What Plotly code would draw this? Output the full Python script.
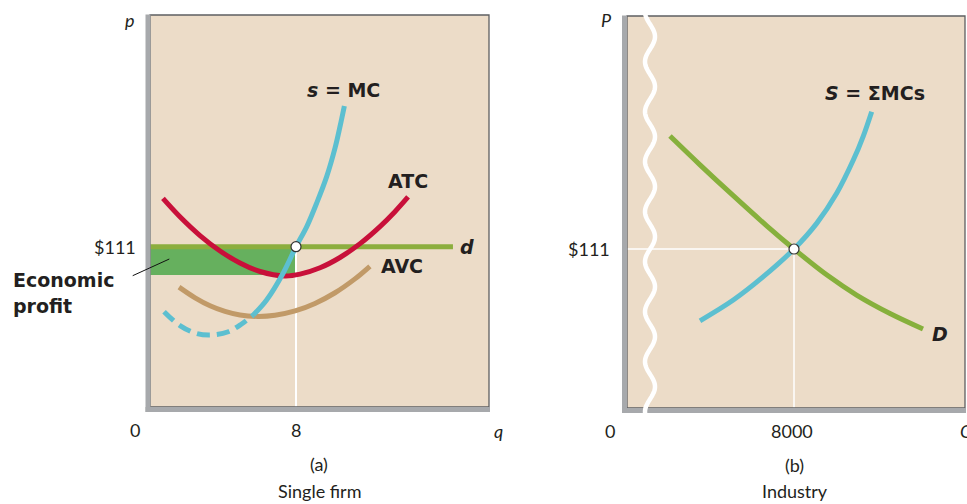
import numpy as np
import plotly.graph_objects as go

W, H = 967, 504

# ---------------- Panel (a): single firm ----------------
price = 111
q_star = 8
atc_at_qstar = 91.4
d_q = [0, 16.6]
d_p = [111, 111]

atc_q = [0.71, 1.64, 2.74, 3.84, 4.93, 6.03, 7.40, 8.22, 9.32, 10.41, 11.51, 12.60, 13.42, 14.14]
atc_p = [144.4, 131.7, 118.7, 108.0, 99.7, 93.8, 90.7, 92.0, 96.4, 103.5, 113.1, 124.9, 135.2, 145.4]

avc_q = [1.59, 2.47, 3.29, 4.11, 4.93, 5.92, 6.85, 7.95, 9.04, 10.14, 11.23, 12.05]
avc_p = [83.0, 75.6, 70.1, 66.2, 63.7, 62.7, 63.5, 66.5, 71.7, 79.1, 88.7, 97.4]

mc_dash_q = [0.77, 1.64, 2.56, 3.40, 4.29, 5.02, 5.66]
mc_dash_p = [66.0, 56.4, 50.9, 49.9, 52.1, 57.5, 63.7]
mc_q = [5.66, 6.39, 7.30, 8.0, 8.59, 9.13, 9.68, 10.14, 10.41, 10.65]
mc_p = [63.7, 74.1, 92.8, 111.0, 124.9, 141.1, 159.5, 179.4, 194.1, 208.4]

# ---------------- Panel (b): industry ----------------
Q_star = 8000
dem_Q = [2060, 3497, 5078, 6707, 8000, 9581, 11018, 12599, 14180]
dem_P = [189.9, 169.8, 148.4, 127.0, 111, 92.8, 78.7, 66.0, 55.2]
sup_Q = [3497, 5092, 6529, 8000, 9087, 10045, 10841, 11320, 11722]
sup_P = [60.9, 75.4, 91.7, 111, 128.9, 149.9, 173.1, 189.9, 206.9]

# ---------------- styles ----------------
FONT = "Lato"
BOLDFONT = "DejaVu Sans"
TXT = "#231f20"
BEIGE = "#ecdcc8"
GRAY = "#a7a9ac"
FRAME = "#5e5f61"
CRIMSON = "#c8103a"
CYAN = "#5cbfd0"
TAN = "#c19a68"
OLIVE = "#8cae3e"
PROFIT = "#66b05e"
DGREEN = "#86b03c"


def px(x):
    return x / W


def py(y):
    return 1 - y / H


fig = go.Figure()

# panel (a) traces
fig.add_trace(go.Scatter(x=d_q, y=d_p, mode="lines", line=dict(color=OLIVE, width=5),
                         xaxis="x", yaxis="y"))
fig.add_trace(go.Scatter(x=avc_q, y=avc_p, mode="lines", line=dict(color=TAN, width=5, shape="spline"),
                         xaxis="x", yaxis="y"))
fig.add_trace(go.Scatter(x=atc_q, y=atc_p, mode="lines", line=dict(color=CRIMSON, width=5, shape="spline"),
                         xaxis="x", yaxis="y"))
fig.add_trace(go.Scatter(x=mc_dash_q, y=mc_dash_p, mode="lines",
                         line=dict(color=CYAN, width=5, shape="spline", dash="13px,7px"),
                         xaxis="x", yaxis="y"))
fig.add_trace(go.Scatter(x=mc_q, y=mc_p, mode="lines", line=dict(color=CYAN, width=5, shape="spline"),
                         xaxis="x", yaxis="y"))
fig.add_trace(go.Scatter(x=[q_star], y=[price], mode="markers",
                         marker=dict(size=10, color="white", line=dict(color="#333333", width=1.2)),
                         xaxis="x", yaxis="y"))

# panel (b) traces
fig.add_trace(go.Scatter(x=dem_Q, y=dem_P, mode="lines", line=dict(color=DGREEN, width=5, shape="spline"),
                         xaxis="x2", yaxis="y2"))
fig.add_trace(go.Scatter(x=sup_Q, y=sup_P, mode="lines", line=dict(color=CYAN, width=5, shape="spline"),
                         xaxis="x2", yaxis="y2"))
fig.add_trace(go.Scatter(x=[Q_star], y=[price], mode="markers",
                         marker=dict(size=10, color="white", line=dict(color="#333333", width=1.2)),
                         xaxis="x2", yaxis="y2"))

shapes = []
# profit rectangle and guide lines (below traces)
shapes.append(dict(type="rect", xref="x", yref="y", x0=0, x1=q_star, y0=atc_at_qstar, y1=price,
                   fillcolor=PROFIT, line=dict(width=0), layer="below"))
shapes.append(dict(type="line", xref="x", yref="y", x0=q_star, x1=q_star, y0=0, y1=price,
                   line=dict(color="white", width=2), layer="below"))
shapes.append(dict(type="line", xref="x2", yref="y2", x0=0, x1=Q_star, y0=price, y1=price,
                   line=dict(color="white", width=1.5), layer="below"))
shapes.append(dict(type="line", xref="x2", yref="y2", x0=Q_star, x1=Q_star, y0=0, y1=price,
                   line=dict(color="white", width=1.5), layer="below"))

# frames
for (x0, x1, y0, y1) in [(150, 489, 15, 407), (627, 965, 16, 408)]:
    shapes.append(dict(type="rect", xref="paper", yref="paper", x0=px(x0), x1=px(x1),
                       y0=py(y1), y1=py(y0), line=dict(color=FRAME, width=1.3), layer="above"))
# gray axes
for (x0, x1, y0, y1) in [(145.5, 150.5, 14.5, 412), (145.5, 490, 407, 412),
                         (622, 627, 15.5, 413), (622, 966, 408, 413)]:
    shapes.append(dict(type="rect", xref="paper", yref="paper", x0=px(x0), x1=px(x1),
                       y0=py(y1), y1=py(y0), fillcolor=GRAY, line=dict(width=0), layer="above"))

# leader line for economic profit
shapes.append(dict(type="line", xref="paper", yref="paper", x0=px(132.7), y0=py(275.7),
                   x1=px(169.3), y1=py(259), line=dict(color="#111111", width=1), layer="above"))

# axis-break wave on industry panel
ys = np.linspace(13, 414, 300)
xs = 650 + 5 * np.sin(2 * np.pi * (ys - 24.2) / 50)
path = "M " + " L ".join(f"{px(a):.5f},{py(b):.5f}" for a, b in zip(xs, ys))
shapes.append(dict(type="path", xref="paper", yref="paper", path=path,
                   line=dict(color="white", width=4.5), layer="above"))

ann = []


def label(text, x, y, size=18, xanchor="center", family=FONT):
    ann.append(dict(text=text, xref="paper", yref="paper", x=px(x), y=py(y), xanchor=xanchor,
                    yanchor="middle", showarrow=False, font=dict(family=family, size=size, color=TXT)))


B = 19
# panel (a) labels
label("<b><i>s</i> = MC</b>", 343, 90, B, family=BOLDFONT)
label("<b>ATC</b>", 407.5, 181, B, family=BOLDFONT)
label("<b>AVC</b>", 402, 266, B, family=BOLDFONT)
label("<b><i>d</i></b>", 467, 247, B, family=BOLDFONT)
label("$111", 138, 247, 18, "right")
label("<b>Economic</b>", 11, 280, B, "left", family=BOLDFONT)
label("<b>profit</b>", 11, 306, B, "left", family=BOLDFONT)
label("<i>p</i>", 130, 20, 18)
label("0", 135, 430, 18)
label("8", 296, 430, 18)
label("<i>q</i>", 498, 431, 18)
label("(a)", 319, 464, 18)
label("Single firm", 319, 491, 18)

# panel (b) labels
label("<b><i>S</i> = \u03a3MCs</b>", 874.5, 93, B, family=BOLDFONT)
label("<b><i>D</i></b>", 940, 333.5, B, family=BOLDFONT)
label("$111", 612, 249, 18, "right")
label("<i>P</i>", 606, 20, 18)
label("0", 610, 431, 18)
label("8000", 792, 431, 18)
label("<i>Q</i>", 958, 431, 18, "left")
label("(b)", 794, 465, 18)
label("Industry", 795, 491, 18)

ax_common = dict(showgrid=False, zeroline=False, showticklabels=False, showline=False,
                 ticks="", fixedrange=True)

fig.update_layout(
    width=W, height=H,
    margin=dict(l=0, r=0, t=0, b=0),
    paper_bgcolor="white",
    plot_bgcolor=BEIGE,
    showlegend=False,
    hovermode=False,
    xaxis=dict(domain=[px(150), px(489)], range=[0, 18.575], anchor="y", **ax_common),
    yaxis=dict(domain=[py(407), py(15)], range=[0, 271.4], anchor="x", **ax_common),
    xaxis2=dict(domain=[px(627), px(965)], range=[0, 16192], anchor="y2", **ax_common),
    yaxis2=dict(domain=[py(408), py(16)], range=[0, 273.7], anchor="x2", **ax_common),
    shapes=shapes,
    annotations=ann,
)

fig.write_html("out.html", config={"displayModeBar": False},
               post_script="document.body.style.margin='0';document.body.style.overflow='hidden';")
